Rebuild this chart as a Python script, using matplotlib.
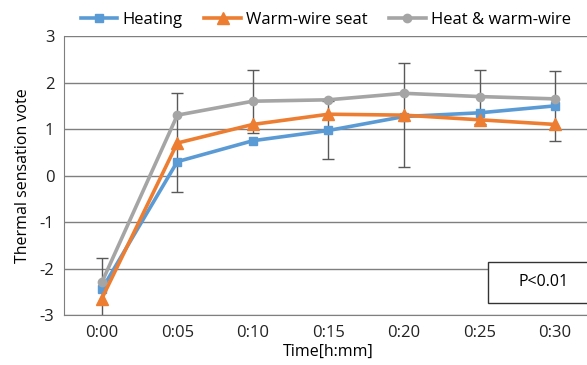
import matplotlib
matplotlib.use('Agg')
import matplotlib.pyplot as plt
from matplotlib.patches import Rectangle
import numpy as np

times = ['0:00', '0:05', '0:10', '0:15', '0:20', '0:25', '0:30']
heating = [-2.45, 0.30, 0.75, 0.97, 1.27, 1.35, 1.50]
warm_wire = [-2.65, 0.70, 1.10, 1.32, 1.30, 1.20, 1.10]
heat_warm = [-2.30, 1.30, 1.60, 1.63, 1.77, 1.70, 1.65]
# whisker ends
err_low = [-3.10, -0.36, 0.92, 0.35, 0.19, 1.12, 0.74]
err_high = [-1.77, 1.77, 2.28, 1.60, 2.43, 2.28, 2.25]

plt.rcParams['font.family'] = ['Open Sans', 'DejaVu Sans']
plt.rcParams['axes.unicode_minus'] = False

fig = plt.figure(figsize=(5.87, 3.65), dpi=100)
ax = fig.add_axes([0.109, 0.137, 0.901, 0.764])
x = np.arange(len(times))

err_mid = (np.array(err_low) + np.array(err_high)) / 2
err_half = (np.array(err_high) - np.array(err_low)) / 2
ax.errorbar(x, err_mid, yerr=err_half, fmt='none', ecolor='#595959',
            elinewidth=1, capsize=4, capthick=1, zorder=2)

ax.plot(x, heating, color='#5B9BD5', lw=2.6, marker='s', ms=6, label='Heating', zorder=3)
ax.plot(x, warm_wire, color='#ED7D31', lw=2.6, marker='^', ms=9, label='Warm-wire seat', zorder=4)
ax.plot(x, heat_warm, color='#A5A5A5', lw=2.6, marker='o', ms=6, label='Heat & warm-wire', zorder=5)

ax.set_xlim(-0.5, 6.5)
ax.set_ylim(-3, 3)
ax.set_yticks(range(-3, 4))
ax.set_xticks(x)
ax.set_xticklabels(times)
ax.tick_params(length=0, labelsize=12, colors='#222222', pad=7)
ax.yaxis.grid(True, color='#7f7f7f', lw=1)
ax.set_axisbelow(True)
for side in ['top', 'right']:
    ax.spines[side].set_visible(False)
ax.spines['left'].set_color('#7f7f7f')
ax.spines['bottom'].set_color('#7f7f7f')

ax.set_ylabel('Thermal sensation vote', fontsize=11.5, labelpad=6)
ax.set_xlabel('Time[h:mm]', fontsize=11.5, labelpad=2)

ax.add_patch(Rectangle((5.11, -2.74), 2.0, 0.88, facecolor='white',
                       edgecolor='#333333', lw=1, zorder=6, clip_on=False))
ax.text(5.85, -2.30, 'P<0.01', fontsize=11.5, ha='center', va='center', zorder=7)

ax.legend(loc='lower center', bbox_to_anchor=(0.495, 0.975), ncol=3, frameon=False,
          fontsize=12, handlelength=2.2, columnspacing=1.3, handletextpad=0.3)

fig.savefig('out.png', dpi=100)
